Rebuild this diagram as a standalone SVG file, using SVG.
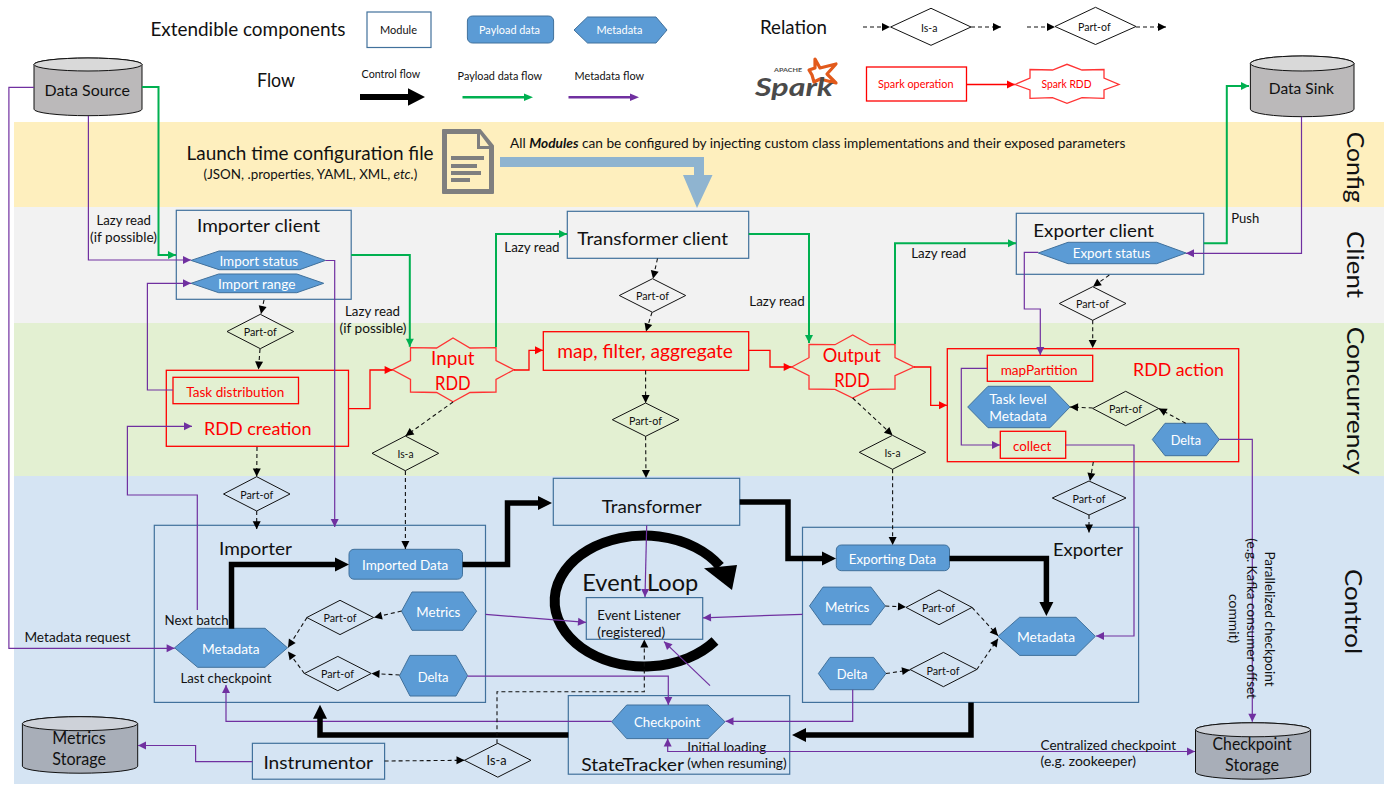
<svg xmlns="http://www.w3.org/2000/svg" width="1400" height="788" viewBox="0 0 1400 788">
<style>
text{font-family:Lato,"Liberation Sans",sans-serif;fill:#111}
.s11{font-size:11px}.s12{font-size:12px}.s13{font-size:13px}.s14{font-size:14px}.s16{font-size:16px}.s18{font-size:18px}.s19{font-size:19px}.s23{font-size:23px}.s24{font-size:24px}
.w{fill:#fff}.r{fill:#f00}
.mod{fill:none;stroke:#41719c;stroke-width:1.2}
.hex,.pay{fill:#5b9bd5;stroke:#41719c;stroke-width:1}
.dia{fill:none;stroke:#111;stroke-width:1}
.op{fill:none;stroke:#f00;stroke-width:1.3}
.star{fill:none;stroke:#f33;stroke-width:1.3}
.cyl{fill:#bbb9ba;stroke:#111;stroke-width:1}.cylt{fill:#d9d9d9;stroke:#111;stroke-width:1}
.cyl2{fill:#a8aeb8;stroke:#111;stroke-width:1}.cylt2{fill:#ced2d9;stroke:#111;stroke-width:1}
.p,.g,.d,.rl,.k{fill:none}
.p{stroke:#7030a0;stroke-width:1.2;marker-end:url(#mp)}
.g{stroke:#00b050;stroke-width:2;marker-end:url(#mg)}
.rl{stroke:#f00;stroke-width:1.3;marker-end:url(#mr)}
.d{stroke:#111;stroke-width:1.1;stroke-dasharray:4 3;marker-end:url(#md)}
.k{stroke:#000;stroke-width:5.5;marker-end:url(#mk)}
</style>
<defs>
<marker id="mp" markerUnits="userSpaceOnUse" markerWidth="10" markerHeight="10" refX="8" refY="5" orient="auto" overflow="visible"><path d="M0 1 L8 5 L0 9Z" fill="#7030a0"/></marker>
<marker id="mps" markerUnits="userSpaceOnUse" markerWidth="10" markerHeight="10" refX="8" refY="5" orient="auto-start-reverse" overflow="visible"><path d="M0 1 L8 5 L0 9Z" fill="#7030a0"/></marker>
<marker id="mg" markerUnits="userSpaceOnUse" markerWidth="10" markerHeight="10" refX="8" refY="5" orient="auto" overflow="visible"><path d="M0 1 L8 5 L0 9Z" fill="#00b050"/></marker>
<marker id="mr" markerUnits="userSpaceOnUse" markerWidth="10" markerHeight="10" refX="8" refY="5" orient="auto" overflow="visible"><path d="M0 1 L8 5 L0 9Z" fill="#f00"/></marker>
<marker id="md" markerUnits="userSpaceOnUse" markerWidth="10" markerHeight="10" refX="8" refY="5" orient="auto" overflow="visible"><path d="M0 1 L8 5 L0 9Z" fill="#000"/></marker>
<marker id="mk" markerUnits="userSpaceOnUse" markerWidth="16" markerHeight="16" refX="1" refY="8" orient="auto" overflow="visible"><path d="M0 1 L14 8 L0 15Z" fill="#000"/></marker>
</defs>

<g id="bands">
<rect x="14" y="122" width="1370" height="85" fill="#feefbe"/>
<rect x="14" y="207" width="1370" height="116" fill="#f2f2f2"/>
<rect x="14" y="323" width="1370" height="153" fill="#e3f0d2"/>
<rect x="14" y="476" width="1370" height="308" fill="#d5e4f3"/>
<text class="s24" transform="translate(1347 131.7) rotate(90)" textLength="71" lengthAdjust="spacingAndGlyphs">Config</text>
<text class="s24" transform="translate(1347 231) rotate(90)" textLength="67" lengthAdjust="spacingAndGlyphs">Client</text>
<text class="s24" transform="translate(1347 326.7) rotate(90)" textLength="148" lengthAdjust="spacingAndGlyphs">Concurrency</text>
<text class="s24" transform="translate(1345 569) rotate(90)" textLength="85" lengthAdjust="spacingAndGlyphs">Control</text>
</g>

<g id="legend">
<text class="s19" x="150.4" y="35.7" textLength="195" lengthAdjust="spacingAndGlyphs">Extendible components</text>
<rect class="mod" x="367" y="12" width="64" height="35.5"/>
<text class="s12" x="380" y="34" textLength="37" lengthAdjust="spacingAndGlyphs">Module</text>
<rect class="pay" x="467.4" y="16" width="86.2" height="27" rx="5"/>
<text class="s12 w" x="479" y="34" textLength="61" lengthAdjust="spacingAndGlyphs">Payload data</text>
<polygon class="hex" points="574,30 587.5,17 656,17 667,30 656,43 587.5,43"/>
<text class="s12 w" x="596.4" y="34" textLength="46" lengthAdjust="spacingAndGlyphs">Metadata</text>
<text class="s19" x="257" y="87" textLength="38" lengthAdjust="spacingAndGlyphs">Flow</text>
<text class="s12" x="361.6" y="78" textLength="58.5" lengthAdjust="spacingAndGlyphs">Control flow</text>
<text class="s12" x="457.6" y="80" textLength="84.4" lengthAdjust="spacingAndGlyphs">Payload data flow</text>
<text class="s12" x="574.5" y="80" textLength="69.6" lengthAdjust="spacingAndGlyphs">Metadata flow</text>
<path d="M360 94H408V88.3L425 97L408 105.7V100H360Z" fill="#000"/>
<path d="M462.5 97.3H524" stroke="#00b050" stroke-width="2.5" fill="none"/><path d="M524 93.5L533 97.3L524 101Z" fill="#00b050"/>
<path d="M568.5 97.3H630" stroke="#7030a0" stroke-width="2.5" fill="none"/><path d="M630 93.5L639 97.3L630 101Z" fill="#7030a0"/>
<text class="s19" x="760" y="33.5" textLength="67" lengthAdjust="spacingAndGlyphs">Relation</text>
<polygon class="dia" points="890.6,27 931,8.3 971,27 931,45.3"/>
<text class="s12" x="921" y="32" textLength="16.5" lengthAdjust="spacingAndGlyphs">Is-a</text>
<path class="d" d="M863 27H890"/><path class="d" d="M971 27H1001"/>
<polygon class="dia" points="1055,26.5 1095.5,7.3 1136,26.5 1095.5,44.5"/>
<text class="s12" x="1078" y="31" textLength="32.6" lengthAdjust="spacingAndGlyphs">Part-of</text>
<path class="d" d="M1027 27H1055"/><path class="d" d="M1136 27H1166"/>
<g id="spark-logo">
<polygon points="815,59 820,68 836,64 827,74 836,83 820,79 814,82 812,75 809,70 815,68" fill="#fff" stroke="#e25a1c" stroke-width="3.2" stroke-linejoin="round"/>
<text x="774" y="72" font-size="6" font-weight="700" style="fill:#4d4d4d" textLength="28" lengthAdjust="spacingAndGlyphs">APACHE</text>
<text x="755" y="96" font-size="25" font-style="italic" font-weight="700" style="fill:#4a4a4a" textLength="78" lengthAdjust="spacingAndGlyphs">Spark</text>
</g>
<rect class="op" x="866.5" y="67" width="100" height="34"/>
<text class="s12 r" x="878" y="88" textLength="75.5" lengthAdjust="spacingAndGlyphs">Spark operation</text>
<path class="rl" d="M966.5 84.5H1015"/>
<polygon class="star" points="1015,84.5 1030,78 1030,69.5 1052.5,70 1067,64.3 1082,70 1104,69.5 1104,78 1119,84.5 1104,90 1104,98.3 1082,97.7 1067,103.3 1052.5,97.7 1030,98.3 1030,90"/>
<text class="s12 r" x="1041.5" y="88" textLength="50" lengthAdjust="spacingAndGlyphs">Spark RDD</text>
</g>

<g id="config">
<path d="M500 157H704V175H712.5L697 208L683 175H694V167H500Z" fill="#8fb4d0"/>
<path d="M443 130H480L493 146V193H443Z" fill="#7f7f7f" stroke="#7f7f7f" stroke-width="2" stroke-linejoin="round"/>
<path d="M447 134H477V149H489V189H447Z" fill="#feefbe"/>
<path d="M480 134L489 146H480Z" fill="#feefbe"/>
<path d="M451 158H484M451 166H477M451 173H481M451 180H470" stroke="#7f7f7f" stroke-width="4" fill="none"/>
<text class="s19" x="186.6" y="160" textLength="247" lengthAdjust="spacingAndGlyphs">Launch time configuration file</text>
<text class="s13" x="203.6" y="178.7" textLength="213.8" lengthAdjust="spacingAndGlyphs">(JSON, .properties, YAML, XML, <tspan font-style="italic">etc.</tspan>)</text>
<text class="s13" x="510" y="148.3" textLength="615.4" lengthAdjust="spacingAndGlyphs">All <tspan font-weight="700" font-style="italic">Modules</tspan> can be configured by injecting custom class implementations and their exposed parameters</text>
</g>

<g id="data-source"><path class="cyl" d="M34 64.5A54 6.5 0 0 1 142 64.5V109.2A54 6.5 0 0 1 34 109.2Z"/><ellipse class="cylt" cx="88" cy="64.5" rx="54" ry="6.5"/>
<text class="s16" x="44.6" y="96" textLength="85.4" lengthAdjust="spacingAndGlyphs">Data Source</text></g>
<g id="data-sink"><path class="cyl" d="M1250.4 63.5A51.8 7.5 0 0 1 1354 63.5V109.2A51.8 7.5 0 0 1 1250.4 109.2Z"/><ellipse class="cylt" cx="1302.2" cy="63.5" rx="51.8" ry="7.5"/>
<text class="s16" x="1268.8" y="94" textLength="65.2" lengthAdjust="spacingAndGlyphs">Data Sink</text></g>

<g id="importer-client"><rect class="mod" x="176.3" y="210.3" width="174.9" height="89"/>
<text class="s18" x="197" y="232" textLength="123" lengthAdjust="spacingAndGlyphs">Importer client</text>
<polygon class="hex" points="191,260.4 219,251 299.6,251 325.4,260.4 299.6,269.7 219,269.7"/>
<text class="s14 w" x="219.4" y="266" textLength="78.6" lengthAdjust="spacingAndGlyphs">Import status</text>
<polygon class="hex" points="191,283.3 218.7,274 296.8,274 323.7,283.3 296.8,292.7 218.7,292.7"/>
<text class="s14 w" x="218" y="289" textLength="77.5" lengthAdjust="spacingAndGlyphs">Import range</text></g>

<g id="transformer-client"><rect class="mod" x="567.3" y="211.3" width="181.4" height="47"/>
<text class="s18" x="577.3" y="245" textLength="150.7" lengthAdjust="spacingAndGlyphs">Transformer client</text></g>

<g id="exporter-client"><rect class="mod" x="1016.3" y="213.3" width="187.4" height="61"/>
<text class="s18" x="1033.3" y="236.7" textLength="120.7" lengthAdjust="spacingAndGlyphs">Exporter client</text>
<polygon class="hex" points="1038.3,253 1068,242.3 1156.7,242.3 1186,253 1156.7,263.7 1068,263.7"/>
<text class="s14 w" x="1072.7" y="257.7" textLength="77.6" lengthAdjust="spacingAndGlyphs">Export status</text></g>

<g id="rdd-creation"><rect class="op" x="166.3" y="370.3" width="182.2" height="76"/>
<rect class="op" x="173" y="377.3" width="125.5" height="26.4"/>
<text class="s14 r" x="186.3" y="396.7" textLength="98" lengthAdjust="spacingAndGlyphs">Task distribution</text>
<text class="s18 r" x="204" y="435" textLength="107.6" lengthAdjust="spacingAndGlyphs">RDD creation</text></g>

<g id="input-rdd"><polygon class="star" points="392.6,369.7 410.5,360.7 410.5,347.7 436.6,348 453,338 470,348 496,347.7 496,360.7 514,369.7 496,379.5 496,392 470,392.5 453,401.7 436.6,392.5 410.5,392 410.5,379.5"/>
<text class="s19 r" x="431" y="365" textLength="43.5" lengthAdjust="spacingAndGlyphs">Input</text>
<text class="s19 r" x="435" y="390" textLength="35.6" lengthAdjust="spacingAndGlyphs">RDD</text></g>

<g id="map-filter"><rect class="op" x="543.3" y="331.7" width="205.4" height="38.6"/>
<text class="s19 r" x="557.3" y="357.7" textLength="175.7" lengthAdjust="spacingAndGlyphs">map, filter, aggregate</text></g>

<g id="output-rdd"><polygon class="star" points="791.7,367 809,357.7 809,344.3 835,344.7 852.7,335 870,344.7 895,344.3 895,357.7 914,367 895,375.7 895,389 870,389.3 852.7,398 835,389.3 809,389 809,375.7"/>
<text class="s19 r" x="822.7" y="361.7" textLength="58" lengthAdjust="spacingAndGlyphs">Output</text>
<text class="s19 r" x="834.3" y="386.7" textLength="35.4" lengthAdjust="spacingAndGlyphs">RDD</text></g>

<g id="rdd-action"><rect class="op" x="947.3" y="348.7" width="291.4" height="113"/>
<rect class="op" x="987.3" y="355.3" width="105.4" height="26"/>
<text class="s14 r" x="1000.7" y="375" textLength="77" lengthAdjust="spacingAndGlyphs">mapPartition</text>
<text class="s18 r" x="1133" y="376" textLength="91" lengthAdjust="spacingAndGlyphs">RDD action</text>
<polygon class="hex" points="967.7,407 988,386.3 1050,386.3 1070,407 1050,427.7 988,427.7"/>
<text class="s14 w" x="989.3" y="404" textLength="57.4" lengthAdjust="spacingAndGlyphs">Task level</text>
<text class="s14 w" x="989.3" y="421" textLength="57.4" lengthAdjust="spacingAndGlyphs">Metadata</text>
<polygon class="hex" points="1152.3,439.5 1165,423.3 1206.7,423.3 1219.3,439.5 1206.7,455.7 1165,455.7"/>
<text class="s14 w" x="1170.7" y="445" textLength="30.3" lengthAdjust="spacingAndGlyphs">Delta</text>
<rect class="op" x="1000.3" y="431.3" width="65.4" height="27"/>
<text class="s14 r" x="1013" y="450.7" textLength="38.3" lengthAdjust="spacingAndGlyphs">collect</text></g>

<g id="relations">
<polygon class="dia" points="227,331.5 260.3,314.3 293.7,331.5 260.3,348.7"/><text class="s12" x="243.7" y="336" textLength="33" lengthAdjust="spacingAndGlyphs">Part-of</text>
<polygon class="dia" points="223.5,494 256.7,476.7 290,494 256.7,511"/><text class="s12" x="240.2" y="498.5" textLength="33" lengthAdjust="spacingAndGlyphs">Part-of</text>
<polygon class="dia" points="372,453.3 405.3,436 438.7,453.3 405.3,470.7"/><text class="s12" x="397.5" y="458" textLength="16" lengthAdjust="spacingAndGlyphs">Is-a</text>
<polygon class="dia" points="619.3,295.5 652.5,278.7 685.7,295.5 652.5,312.3"/><text class="s12" x="636" y="300" textLength="33" lengthAdjust="spacingAndGlyphs">Part-of</text>
<polygon class="dia" points="612.3,419.7 645.6,403 679,419.7 645.6,436.3"/><text class="s12" x="629" y="424.5" textLength="33" lengthAdjust="spacingAndGlyphs">Part-of</text>
<polygon class="dia" points="859.3,452.3 892.5,435.3 925.7,452.3 892.5,469.3"/><text class="s12" x="884.5" y="457" textLength="16" lengthAdjust="spacingAndGlyphs">Is-a</text>
<polygon class="dia" points="1059.3,303.5 1092.7,286.7 1126,303.5 1092.7,320.3"/><text class="s12" x="1076" y="308" textLength="33" lengthAdjust="spacingAndGlyphs">Part-of</text>
<polygon class="dia" points="1092.7,408.5 1125.7,391.3 1158.7,408.5 1125.7,425.7"/><text class="s12" x="1109" y="413" textLength="33" lengthAdjust="spacingAndGlyphs">Part-of</text>
<polygon class="dia" points="1052.3,498 1089,481 1126,498 1089,515"/><text class="s12" x="1072.5" y="503" textLength="33" lengthAdjust="spacingAndGlyphs">Part-of</text>
<polygon class="dia" points="306.8,617.5 340,600.3 373.6,617.5 340,634.6"/><text class="s12" x="323.5" y="621.8" textLength="33" lengthAdjust="spacingAndGlyphs">Part-of</text>
<polygon class="dia" points="304.4,673.5 337.8,656.4 371.2,673.5 337.8,690.7"/><text class="s12" x="321" y="678.2" textLength="33" lengthAdjust="spacingAndGlyphs">Part-of</text>
<polygon class="dia" points="906,607.4 939,590 972,607.4 939,624.7"/><text class="s12" x="922" y="612" textLength="33" lengthAdjust="spacingAndGlyphs">Part-of</text>
<polygon class="dia" points="910,669.5 943.4,652.4 976.8,669.5 943.4,686.7"/><text class="s12" x="926.5" y="674.5" textLength="33" lengthAdjust="spacingAndGlyphs">Part-of</text>
<polygon class="dia" points="464.5,760.3 497.8,743.3 531,760.3 497.8,777.2"/><text class="s13" x="486.5" y="765.3" textLength="20" lengthAdjust="spacingAndGlyphs">Is-a</text>
</g>

<g id="event-loop">
<path d="M715 641A89.5 65.4 0 1 1 720 566.3" fill="none" stroke="#000" stroke-width="10"/>
<polygon points="704,568.3 737,565 732,590" fill="#000"/>
<text class="s23" x="582.3" y="591" textLength="116" lengthAdjust="spacingAndGlyphs">Event Loop</text>
</g>
<g id="event-listener"><rect class="mod" x="586.3" y="597.6" width="116.4" height="41.7"/>
<text class="s13" x="597.3" y="619.8" textLength="83.4" lengthAdjust="spacingAndGlyphs">Event Listener</text>
<text class="s13" x="597.3" y="636.6" textLength="68" lengthAdjust="spacingAndGlyphs">(registered)</text></g>

<g id="importer"><rect class="mod" x="154.3" y="525.3" width="331.2" height="177.1"/>
<text class="s18" x="219" y="555" textLength="73" lengthAdjust="spacingAndGlyphs">Importer</text>
<rect class="pay" x="349" y="549.3" width="113.5" height="29.9" rx="5"/>
<text class="s14 w" x="362" y="570" textLength="86.3" lengthAdjust="spacingAndGlyphs">Imported Data</text>
<polygon class="hex" points="174.6,647.8 197.7,628.3 265,628.3 287.5,647.8 265,667.3 197.7,667.3"/>
<text class="s14 w" x="202" y="654" textLength="57.6" lengthAdjust="spacingAndGlyphs">Metadata</text>
<polygon class="hex" points="401.5,611.2 412,592 463,592 476.6,611.2 463,630.3 412,630.3"/>
<text class="s14 w" x="416.3" y="616.8" textLength="44.1" lengthAdjust="spacingAndGlyphs">Metrics</text>
<polygon class="hex" points="399.5,675.7 410,655.4 456,655.4 467.6,675.7 456,696 410,696"/>
<text class="s14 w" x="417.7" y="682.2" textLength="30.9" lengthAdjust="spacingAndGlyphs">Delta</text>
<text class="s13" x="164.6" y="624.7" textLength="64" lengthAdjust="spacingAndGlyphs">Next batch</text>
<text class="s13" x="180.4" y="683.2" textLength="91" lengthAdjust="spacingAndGlyphs">Last checkpoint</text></g>

<g id="transformer"><rect class="mod" x="553.3" y="478.3" width="186.4" height="47"/>
<text class="s18" x="601.7" y="513.4" textLength="100" lengthAdjust="spacingAndGlyphs">Transformer</text></g>

<g id="exporter"><rect class="mod" x="802.5" y="527.3" width="336.1" height="175.1"/>
<text class="s18" x="1053" y="556.4" textLength="70" lengthAdjust="spacingAndGlyphs">Exporter</text>
<rect class="pay" x="836.3" y="545" width="113.2" height="25.7" rx="5"/>
<text class="s14 w" x="848.8" y="564" textLength="87.2" lengthAdjust="spacingAndGlyphs">Exporting Data</text>
<polygon class="hex" points="809.5,605.9 823,587.1 871,587.1 885.3,605.9 871,624.7 823,624.7"/>
<text class="s14 w" x="825" y="611.9" textLength="44.4" lengthAdjust="spacingAndGlyphs">Metrics</text>
<polygon class="hex" points="818.4,673.5 830,657.4 873.7,657.4 886,673.5 873.7,689.7 830,689.7"/>
<text class="s14 w" x="836.7" y="679" textLength="30.7" lengthAdjust="spacingAndGlyphs">Delta</text>
<polygon class="hex" points="998,636.3 1019.6,617.3 1076,617.3 1095.4,636.3 1076,655.4 1019.6,655.4"/>
<text class="s14 w" x="1017" y="642" textLength="58" lengthAdjust="spacingAndGlyphs">Metadata</text></g>

<g id="state-tracker"><rect class="mod" x="568.3" y="695.6" width="221.4" height="78.6"/>
<polygon class="hex" points="611.7,721.8 626.7,705 708,705 725,721.8 708,738.6 626.7,738.6"/>
<text class="s14 w" x="634" y="727.3" textLength="66.3" lengthAdjust="spacingAndGlyphs">Checkpoint</text>
<text class="s18" x="581.3" y="771" textLength="102.7" lengthAdjust="spacingAndGlyphs">StateTracker</text>
<text class="s13" x="687.3" y="751.5" textLength="79" lengthAdjust="spacingAndGlyphs">Initial loading</text>
<text class="s13" x="687.3" y="768.3" textLength="99.4" lengthAdjust="spacingAndGlyphs">(when resuming)</text></g>

<g id="instrumentor"><rect class="mod" x="252.4" y="743.3" width="132.2" height="35.9"/>
<text class="s18" x="263.4" y="768.7" textLength="109.6" lengthAdjust="spacingAndGlyphs">Instrumentor</text></g>

<g id="metrics-storage"><path class="cyl2" d="M22.4 723.7A57.6 7 0 0 1 137.7 723.7V766.2A57.6 7 0 0 1 22.4 766.2Z"/><ellipse class="cylt2" cx="80" cy="723.7" rx="57.6" ry="7"/>
<text class="s18" x="52.3" y="744.3" textLength="53.4" lengthAdjust="spacingAndGlyphs">Metrics</text>
<text class="s18" x="52.3" y="765.3" textLength="53.7" lengthAdjust="spacingAndGlyphs">Storage</text></g>
<g id="checkpoint-storage"><path class="cyl2" d="M1195.5 729.8A57.5 7 0 0 1 1310.6 729.8V772.2A57.5 7 0 0 1 1195.5 772.2Z"/><ellipse class="cylt2" cx="1253" cy="729.8" rx="57.5" ry="7"/>
<text class="s18" x="1212.6" y="750" textLength="79" lengthAdjust="spacingAndGlyphs">Checkpoint</text>
<text class="s18" x="1225" y="771" textLength="54" lengthAdjust="spacingAndGlyphs">Storage</text></g>

<g id="connectors">
<path class="g" d="M142 87H158.5V255H176"/>
<path class="g" d="M351.2 255H409.8V346.7"/>
<path class="g" d="M496 347V234H567"/>
<path class="g" d="M748.7 234H809V343"/>
<path class="g" d="M895 344V243.3H1016"/>
<path class="g" d="M1203.7 243.3H1226.8V86H1249"/>
<path class="p" d="M34 87.3H8.9V648.3H174.6"/>
<path class="p" d="M88.4 116V260H191"/>
<path class="p" d="M325.4 260.5H334.7V527"/>
<path class="p" d="M173 390H147.4V283.3H191"/>
<path class="p" d="M197.3 609.9V495H127.4V426.3H192"/>
<path class="p" d="M1038.3 252.3H1024.3V309H1040.3V355"/>
<path class="p" d="M1301.5 116.7V253.3H1186"/>
<path class="p" d="M987.3 368.3H961.3V445H1000"/>
<path class="p" d="M1065.7 445H1134V636H1096"/>
<path class="p" d="M1219.3 439.3H1252.3V721.8"/>
<path class="p" d="M646.7 525.3L645 597"/>
<path class="p" d="M485.5 614.3L586 622.4"/>
<path class="p" d="M802.5 614.3L703 617.8"/>
<path class="p" d="M710 685.6L664 641.6"/>
<path class="p" d="M467.6 676.2H668.3V705"/>
<path class="p" d="M611.7 721.3H226V685.1"/>
<path class="p" d="M852.7 689.7V721.3H725.5"/>
<path class="p" d="M667.7 738.6V751.5H1195" style="marker-start:url(#mps)"/>
<path class="p" d="M252.4 761.7H195.6V745.5H138"/>
<path class="rl" d="M348.5 408.7H370V370H392.6"/>
<path class="rl" d="M514 370H529V350.3H543"/>
<path class="rl" d="M748.7 350.3H770V367H791.7"/>
<path class="rl" d="M914 367H930.7V405.3H947"/>
<path class="k" d="M231.5 628.7V564.4H336"/>
<path class="k" d="M462.5 564.4H507.5V503H539"/>
<path class="k" d="M739.7 502H788V558.4H823"/>
<path class="k" d="M949.5 558.4H1046.4V603"/>
<path class="k" d="M971 702.4V735H805"/>
<path class="k" d="M568.3 735H320V717.8"/>
<path class="d" d="M264 300L261 314"/>
<path class="d" d="M260 349L258.5 369.5"/>
<path class="d" d="M257 447L256.7 476.5"/>
<path class="d" d="M256.7 511V529.3"/>
<path class="d" d="M453 402L405.5 436"/>
<path class="d" d="M405.4 471V549"/>
<path class="d" d="M657.5 258.5L653 278.7"/>
<path class="d" d="M652 312.3L646 331.5"/>
<path class="d" d="M645.6 370.5V403"/>
<path class="d" d="M645.6 436.3L646 478"/>
<path class="d" d="M852.7 398L892.5 435.3"/>
<path class="d" d="M892.6 469.3V545"/>
<path class="d" d="M1109.3 275L1093 286.7"/>
<path class="d" d="M1092.7 320.3V348"/>
<path class="d" d="M1092.7 408L1070 407"/>
<path class="d" d="M1185.7 423.3L1158.7 408.5"/>
<path class="d" d="M1093.3 462L1090 481"/>
<path class="d" d="M1089 515V532.4"/>
<path class="d" d="M401.5 611L374 617.5"/>
<path class="d" d="M399.5 675L371.5 673.5"/>
<path class="d" d="M307 617.5L288 647.5"/>
<path class="d" d="M304.4 673.5L288 651.5"/>
<path class="d" d="M885.3 606L906 607"/>
<path class="d" d="M886 673.5L910 670"/>
<path class="d" d="M972 607.4L998 635.7"/>
<path class="d" d="M976.8 669.5L998 638.7"/>
<path class="d" d="M384.6 761L464.5 760.3"/>
<path class="d" d="M497 743.3V691.7H644.3V639.5"/>
</g>

<g id="connector-labels">
<text class="s13" x="96.4" y="225" textLength="54.6" lengthAdjust="spacingAndGlyphs">Lazy read</text>
<text class="s13" x="90" y="241.7" textLength="67" lengthAdjust="spacingAndGlyphs">(if possible)</text>
<text class="s13" x="345" y="316" textLength="55" lengthAdjust="spacingAndGlyphs">Lazy read</text>
<text class="s13" x="339.5" y="333" textLength="67" lengthAdjust="spacingAndGlyphs">(if possible)</text>
<text class="s13" x="504.3" y="251.7" textLength="55.3" lengthAdjust="spacingAndGlyphs">Lazy read</text>
<text class="s13" x="749.3" y="306" textLength="55.4" lengthAdjust="spacingAndGlyphs">Lazy read</text>
<text class="s13" x="911.3" y="258" textLength="55" lengthAdjust="spacingAndGlyphs">Lazy read</text>
<text class="s13" x="1231.3" y="222.7" textLength="28" lengthAdjust="spacingAndGlyphs">Push</text>
<text class="s13" x="24.4" y="641.6" textLength="106" lengthAdjust="spacingAndGlyphs">Metadata request</text>
<text class="s13" x="1040.6" y="750" textLength="135.4" lengthAdjust="spacingAndGlyphs">Centralized checkpoint</text>
<text class="s13" x="1040.6" y="766.3" textLength="95.4" lengthAdjust="spacingAndGlyphs">(e.g. zookeeper)</text>
<text class="s13" transform="translate(1265 551.5) rotate(90)" textLength="135" lengthAdjust="spacingAndGlyphs">Parallelized checkpoint</text>
<text class="s13" transform="translate(1247 538.3) rotate(90)" textLength="160.7" lengthAdjust="spacingAndGlyphs">(e.g. Kafka consumer offset</text>
<text class="s13" transform="translate(1229 594) rotate(90)" textLength="49.3" lengthAdjust="spacingAndGlyphs">commit)</text>
</g>
</svg>
